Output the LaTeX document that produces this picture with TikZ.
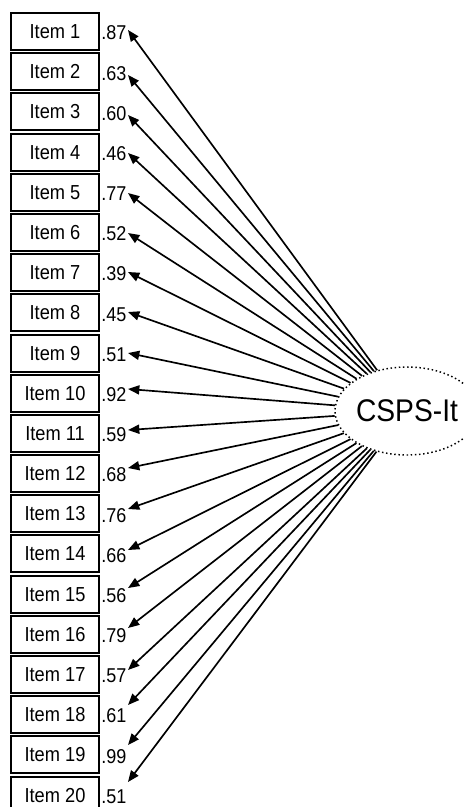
\documentclass[tikz,border=0pt]{standalone}
\usepackage{fontspec}
\setmainfont{Liberation Sans}[FakeStretch=0.9]
\usetikzlibrary{arrows.meta,shapes.geometric}
\begin{document}
\begin{tikzpicture}[x=0.75pt,y=-0.75pt,
  itembox/.style={draw,line width=1.5pt,minimum width=66pt,minimum height=27.75pt,inner sep=0pt,font=\fontsize{15.2}{17}\selectfont},
  loading/.style={anchor=west,inner sep=0pt,font=\fontsize{15}{17}\selectfont},
  latent/.style={ellipse,draw,dotted,line width=1.1pt,minimum width=85.5pt,minimum height=66pt,inner sep=0pt,font=\fontsize{23.5}{27}\selectfont},
  load/.style={line width=1.25pt,-{Triangle[length=8.5pt,width=6.8pt]}}]
\useasboundingbox (0,0) rectangle (464,807);
\fill[white] (0,0) rectangle (464,807);
\node[latent] (lv) at (407,411) {CSPS-It};
\foreach \i/\v/\ty in {1/87/30, 2/63/75, 3/60/115, 4/46/153, 5/77/193, 6/52/233, 7/39/272, 8/45/312, 9/51/353, 10/92/389,
  11/59/430, 12/68/468, 13/76/509, 14/66/550, 15/56/588, 16/79/628, 17/57/670, 18/61/705, 19/99/745, 20/51/782}{
  \node[itembox] (item\i) at (55,{31.6+40.18*(\i-1)}) {Item \i};
  \node[loading] (ld\i) at (101,{33+40.18*(\i-1)}) {.\v};
  \coordinate (tip\i) at (128,\ty);
  \draw[load] (lv) -- (tip\i);
}
\end{tikzpicture}
\end{document}
